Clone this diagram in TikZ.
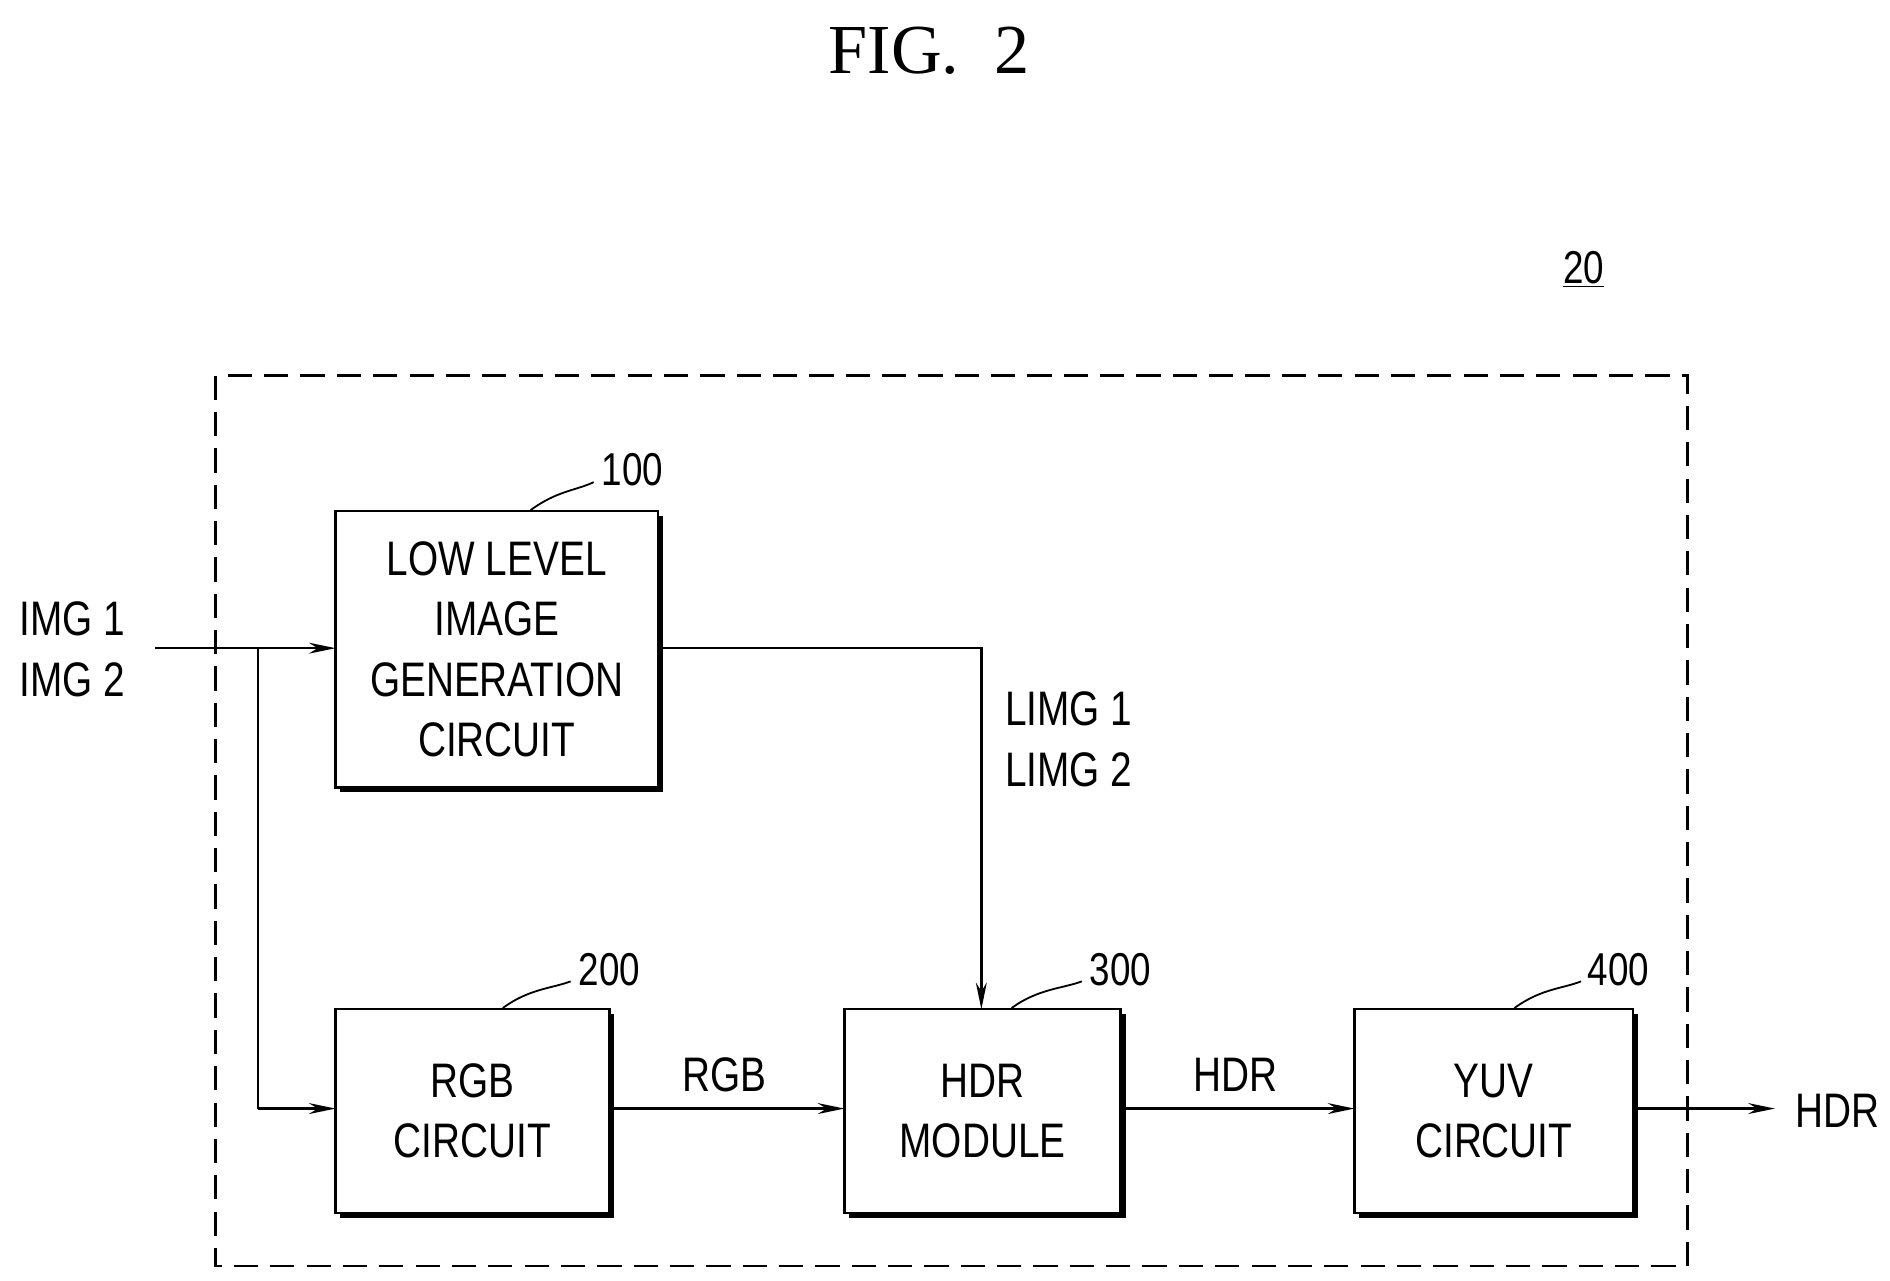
\documentclass[tikz,border=0pt]{standalone}
\usepackage{fontspec}
\setmainfont{Liberation Sans}[FakeStretch=0.8]
\newfontfamily\figfont{Liberation Serif}
\usetikzlibrary{arrows.meta}
\begin{document}
\begin{tikzpicture}[x=1pt,y=-1pt,
  lbl/.style={font=\fontsize{40}{50}\selectfont,align=center},
  box/.style={draw,line width=2pt,fill=white},
  arr/.style={line width=2pt,-{Stealth[length=22pt,width=9pt]}},
  lead/.style={line width=1.5pt}]
\useasboundingbox (0,0) rectangle (1560,1057);
\node[font=\figfont\fontsize{58}{60}\selectfont] (fig) at (767,42) {FIG.\ \ 2};
\node[lbl,font=\fontsize{38}{40}\selectfont] (n20) at (1307,222) {\underline{20}};
\draw[line width=2pt,dash pattern=on 20pt off 10pt] (178,310) rectangle (1393,1045);
\newcommand\mybox[5]{%
 \fill (#1+4,#2+4) rectangle (#3+4,#4+4);
 \draw[box] (#1,#2) rectangle (#3,#4);
 \coordinate (#5) at ({(#1+#3)/2},{(#2+#4)/2});}
\mybox{277}{422}{543}{650}{b1}
\mybox{277}{833}{503}{1001}{b2}
\mybox{697}{833}{925}{1001}{b3}
\mybox{1118}{833}{1348}{1001}{b4}
\node[lbl] (t1) at (b1) {LOW LEVEL\\IMAGE\\GENERATION\\CIRCUIT};
\node[lbl] (t2) at (b2) {RGB\\CIRCUIT};
\node[lbl] (t3) at (b3) {HDR\\MODULE};
\node[lbl] (t4) at (b4) {YUV\\CIRCUIT};
\node[lbl,align=left] (in) at (60,536) {IMG 1\\IMG 2};
\node[lbl,align=left] (limg) at (882,610) {LIMG 1\\LIMG 2};
\node[lbl] (lrgb) at (598,887) {RGB};
\node[lbl] (lhdr) at (1020,887) {HDR};
\node[lbl] (out) at (1517,917) {HDR};
\coordinate (i0) at (128,535);
\coordinate (br) at (213,535);
\draw[arr] (i0) -- (277,535);
\draw[line width=2pt] (br) -- (213,915);
\draw[arr] (213,915) -- (277,915);
\draw[arr] (543,535) -- (810,535) -- (810,833);
\draw[arr] (503,915) -- (697,915);
\draw[arr] (925,915) -- (1118,915);
\draw[arr] (1352,915) -- (1465,915);
\node[lbl,font=\fontsize{38}{40}\selectfont] (r1) at (522,388) {100};
\node[lbl,font=\fontsize{38}{40}\selectfont] (r2) at (503,800) {200};
\node[lbl,font=\fontsize{38}{40}\selectfont] (r3) at (925,800) {300};
\node[lbl,font=\fontsize{38}{40}\selectfont] (r4) at (1336,800) {400};
\draw[lead] (438,421) .. controls (460,405) and (475,405) .. (490,398);
\draw[lead] (415,832) .. controls (437,816) and (455,816) .. (471,810);
\draw[lead] (835,832) .. controls (857,816) and (877,816) .. (893,810);
\draw[lead] (1250,832) .. controls (1272,816) and (1290,816) .. (1305,810);
\end{tikzpicture}
\end{document}
